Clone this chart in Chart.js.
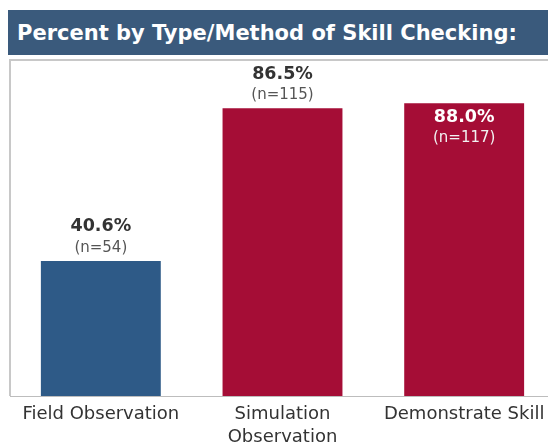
<!DOCTYPE html>
<html>
<head>
<meta charset="utf-8">
<script src="https://cdn.jsdelivr.net/npm/chart.js@4.4.1/dist/chart.umd.min.js"></script>
<style>
html,body{margin:0;padding:0;background:#fff;overflow:hidden;width:548px;height:443px;}
#title{position:absolute;left:8px;top:10px;width:540px;height:45px;background:#3a5a7c;color:#fff;
 font-family:"DejaVu Sans",sans-serif;font-weight:bold;font-size:21px;line-height:46px;padding-left:9px;box-sizing:border-box;white-space:nowrap;}
#wrap{position:absolute;left:0;top:0;width:560px;height:443px;}
</style>
</head>
<body>
<div id="wrap"><canvas id="c" width="560" height="443"></canvas></div>
<div id="title">Percent by Type/Method of Skill Checking:</div>
<script>
const categories = [["Field Observation"], ["Simulation", "Observation"], ["Demonstrate Skill"]];
const percentValues = [40.6, 86.5, 88.0];
const countValues = [54, 115, 117];
const barColors = ["#2e5a87", "#a50d36", "#a50d36"];

const labelPlugin = {
  id: 'barLabels',
  afterDatasetsDraw(chart) {
    const ctx = chart.ctx;
    const meta = chart.getDatasetMeta(0);
    meta.data.forEach((bar, i) => {
      const inside = bar.y - chart.chartArea.top < 45;
      ctx.save();
      ctx.textAlign = 'center';
      ctx.textBaseline = 'middle';
      const pct = percentValues[i].toFixed(1) + '%';
      const n = '(n=' + countValues[i] + ')';
      let y1, y2;
      if (inside) { y1 = bar.y + 14; y2 = bar.y + 35; }
      else { y1 = bar.y - 34; y2 = bar.y - 13; }
      ctx.font = 'bold 17.5px "DejaVu Sans", sans-serif';
      ctx.fillStyle = inside ? '#ffffff' : '#333333';
      ctx.fillText(pct, bar.x, y1);
      ctx.font = '15px "DejaVu Sans", sans-serif';
      ctx.fillStyle = inside ? '#f2f2f2' : '#555555';
      ctx.fillText(n, bar.x, y2);
      ctx.restore();
    });
  }
};

const framePlugin = {
  id: 'frame',
  beforeDatasetsDraw(chart) {
    const a = chart.chartArea, ctx = chart.ctx;
    ctx.save();
    ctx.strokeStyle = '#c8c8c8';
    ctx.lineWidth = 2;
    ctx.beginPath();
    ctx.moveTo(a.left, a.bottom);
    ctx.lineTo(a.left, a.top);
    ctx.lineTo(a.right + 10, a.top);
    ctx.stroke();
    ctx.restore();
  }
};

new Chart(document.getElementById('c'), {
  type: 'bar',
  data: {
    labels: categories,
    datasets: [{
      data: percentValues,
      backgroundColor: barColors,
      barPercentage: 0.66,
      categoryPercentage: 1.0
    }]
  },
  options: {
    responsive: false,
    animation: false,
    layout: { padding: { left: 10, top: 60, right: 5, bottom: 0 } },
    plugins: { legend: { display: false }, tooltip: { enabled: false } },
    scales: {
      x: {
        grid: { display: false, drawTicks: false },
        border: { display: true, color: '#bdbdbd', width: 1 },
        ticks: { color: '#333333', font: { family: '"DejaVu Sans", sans-serif', size: 18, lineHeight: 1.28 }, maxRotation: 0, padding: 7 },
        afterFit(s) { s.height = 47; }
      },
      y: {
        display: false,
        min: 0,
        max: 101
      }
    }
  },
  plugins: [framePlugin, labelPlugin]
});
</script>
</body>
</html>
